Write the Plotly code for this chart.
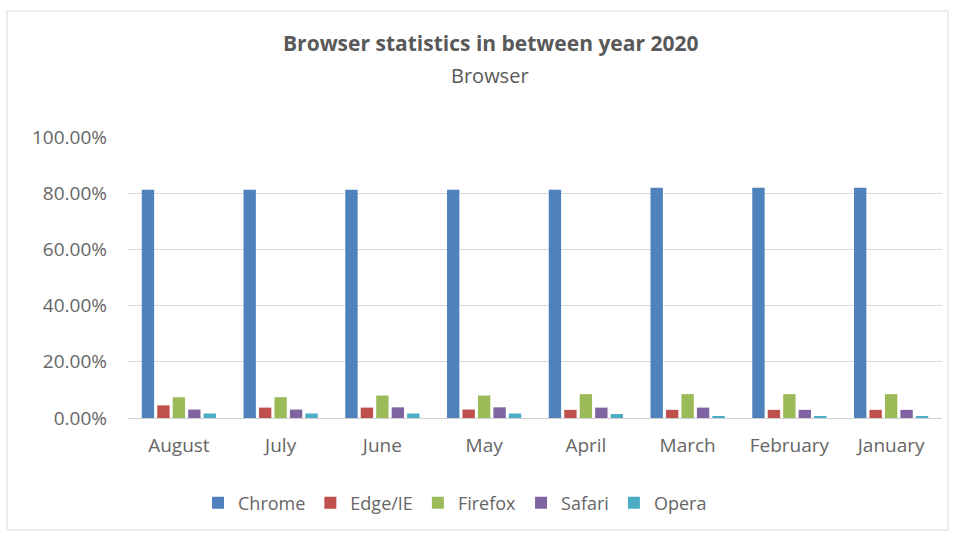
import plotly.graph_objects as go

months = ["August", "July", "June", "May", "April", "March", "February", "January"]
chrome = [0.812, 0.812, 0.812, 0.812, 0.812, 0.819, 0.819, 0.819]
edge = [0.045, 0.037, 0.037, 0.030, 0.029, 0.029, 0.029, 0.029]
firefox = [0.074, 0.074, 0.080, 0.080, 0.085, 0.085, 0.085, 0.085]
safari = [0.030, 0.030, 0.038, 0.038, 0.037, 0.037, 0.029, 0.029]
opera = [0.016, 0.016, 0.016, 0.016, 0.014, 0.007, 0.007, 0.007]

series = [("Chrome", chrome, "#4F81BD"), ("Edge/IE", edge, "#C0504D"),
          ("Firefox", firefox, "#9BBB59"), ("Safari", safari, "#8064A2"),
          ("Opera", opera, "#4BACC6")]

fig = go.Figure()
for name, vals, col in series:
    fig.add_trace(go.Bar(x=months, y=vals, name=name, marker_color=col,
                         marker_line_width=0))

W, H = 955, 534
L, R, T, B = 128, 13, 137, 116
pw, ph = W - L - R, H - T - B

def px(x):
    return (x - L) / pw

def py(y):
    return (H - B - y) / ph

font = "Open Sans, Liberation Sans, sans-serif"
txt = "#666666"
fig.update_layout(
    width=W, height=H,
    margin=dict(l=L, r=R, t=T, b=B),
    paper_bgcolor="white", plot_bgcolor="white",
    barmode="group", bargap=0.24, bargroupgap=0.2,
    font=dict(family=font, color=txt, size=18),
    showlegend=True,
    legend=dict(orientation="h", x=px(455), y=py(503), xanchor="center",
                yanchor="middle", font=dict(size=18, color=txt),
                itemwidth=30, traceorder="normal"),
    xaxis=dict(showgrid=False, showline=True, linecolor="#d0d0d0", linewidth=1,
               ticks="", ticklabelstandoff=10,
               tickfont=dict(size=19, color=txt)),
    yaxis=dict(range=[0, 1.0], dtick=0.2, tickformat=".2%", showgrid=True,
               gridcolor="#d9d9d9", gridwidth=1, zeroline=False, showline=False,
               ticks="", ticklabelstandoff=20,
               tickfont=dict(size=19, color=txt)),
    shapes=[dict(type="rect", xref="paper", yref="paper",
                 x0=px(7), x1=px(948), y0=py(530), y1=py(11),
                 line=dict(color="#d9d9d9", width=1), fillcolor="rgba(0,0,0,0)",
                 layer="below")],
    annotations=[
        dict(text="<b>Browser statistics in between year 2020</b>", xref="paper",
             yref="paper", x=px(490), y=py(43), showarrow=False,
             xanchor="center", yanchor="middle",
             font=dict(size=21, color="#595959", family=font)),
        dict(text="Browser", xref="paper", yref="paper", x=px(490), y=py(75),
             showarrow=False, xanchor="center", yanchor="middle",
             font=dict(size=20, color="#595959", family=font)),
    ],
)

fig.write_html("out.html")
